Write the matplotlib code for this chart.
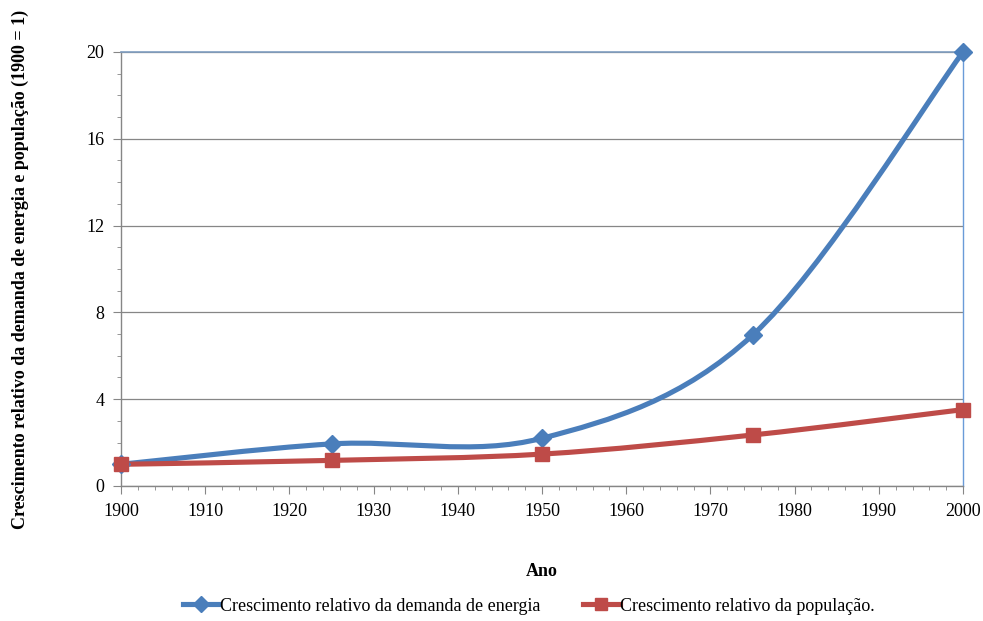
import numpy as np
import matplotlib.pyplot as plt
from matplotlib.path import Path
from matplotlib.patches import PathPatch
from matplotlib.lines import Line2D
from matplotlib.ticker import MultipleLocator

plt.rcParams['font.family'] = ['Liberation Serif', 'DejaVu Serif']

# dados
anos = [1900, 1925, 1950, 1975, 2000]
energia = [1.0, 1.94, 2.2, 6.95, 20.0]
populacao = [1.0, 1.18, 1.47, 2.35, 3.52]

azul = '#4A7EBB'
vermelho = '#BE4B48'


def curva_suave(ax, xs, ys, cor):
    # curva suavizada estilo Excel (Catmull-Rom -> Bezier)
    pts = np.column_stack([xs, ys]).astype(float)
    verts = [pts[0]]
    codes = [Path.MOVETO]
    n = len(pts)
    for i in range(n - 1):
        p0 = pts[i - 1] if i > 0 else pts[i]
        p1 = pts[i]
        p2 = pts[i + 1]
        p3 = pts[i + 2] if i + 2 < n else pts[i + 1]
        c1 = p1 + (p2 - p0) / 6.0
        c2 = p2 - (p3 - p1) / 6.0
        verts += [c1, c2, p2]
        codes += [Path.CURVE4] * 3
    patch = PathPatch(Path(verts, codes), facecolor='none', edgecolor=cor,
                      lw=3.7, capstyle='round', joinstyle='round', zorder=3)
    ax.add_patch(patch)


fig = plt.figure(figsize=(9.83, 6.21), dpi=100)
ax = fig.add_axes([0.1231, 0.2174, 0.8566, 0.6989])

curva_suave(ax, anos, energia, azul)
curva_suave(ax, anos, populacao, vermelho)
ax.plot(anos, energia, linestyle='none', marker='D', ms=9, color=azul,
        clip_on=False, zorder=4)
ax.plot(anos, populacao, linestyle='none', marker='s', ms=10.5, color=vermelho,
        clip_on=False, zorder=4)

ax.set_xlim(1900, 2000)
ax.set_ylim(0, 20)
ax.xaxis.set_major_locator(MultipleLocator(10))
ax.xaxis.set_minor_locator(MultipleLocator(2))
ax.yaxis.set_major_locator(MultipleLocator(4))
ax.yaxis.set_minor_locator(MultipleLocator(1))
ax.tick_params(axis='both', which='major', labelsize=13, length=6,
               color='#868686', direction='out', pad=6)
ax.tick_params(axis='both', which='minor', length=3, color='#868686',
               direction='out')

ax.grid(True, axis='y', which='major', color='#868686', lw=0.9)
ax.set_axisbelow(True)

for s in ['left', 'bottom']:
    ax.spines[s].set_color('#868686')
    ax.spines[s].set_linewidth(1.0)
ax.spines['top'].set_color('#7F9DC0')
ax.spines['top'].set_linewidth(1.2)
ax.spines['right'].set_color('#6A9BD8')
ax.spines['right'].set_linewidth(1.0)

ax.set_xlabel('Ano', fontsize=13, fontweight='bold', labelpad=31)
ax.set_ylabel('Crescimento relativo da demanda de energia e população (1900 = 1)',
              fontsize=13, fontweight='bold', labelpad=41)

handles = [
    Line2D([], [], color=azul, lw=3.7, marker='D', ms=8),
    Line2D([], [], color=vermelho, lw=3.7, marker='s', ms=9),
]
fig.legend(handles,
           ['Crescimento relativo da demanda de energia',
            'Crescimento relativo da população.'],
           loc='center', bbox_to_anchor=(0.538, 0.024), ncol=2, frameon=False,
           fontsize=13, handlelength=2.0, handletextpad=0.05, columnspacing=2.4)

fig.savefig('out.png', dpi=100)
